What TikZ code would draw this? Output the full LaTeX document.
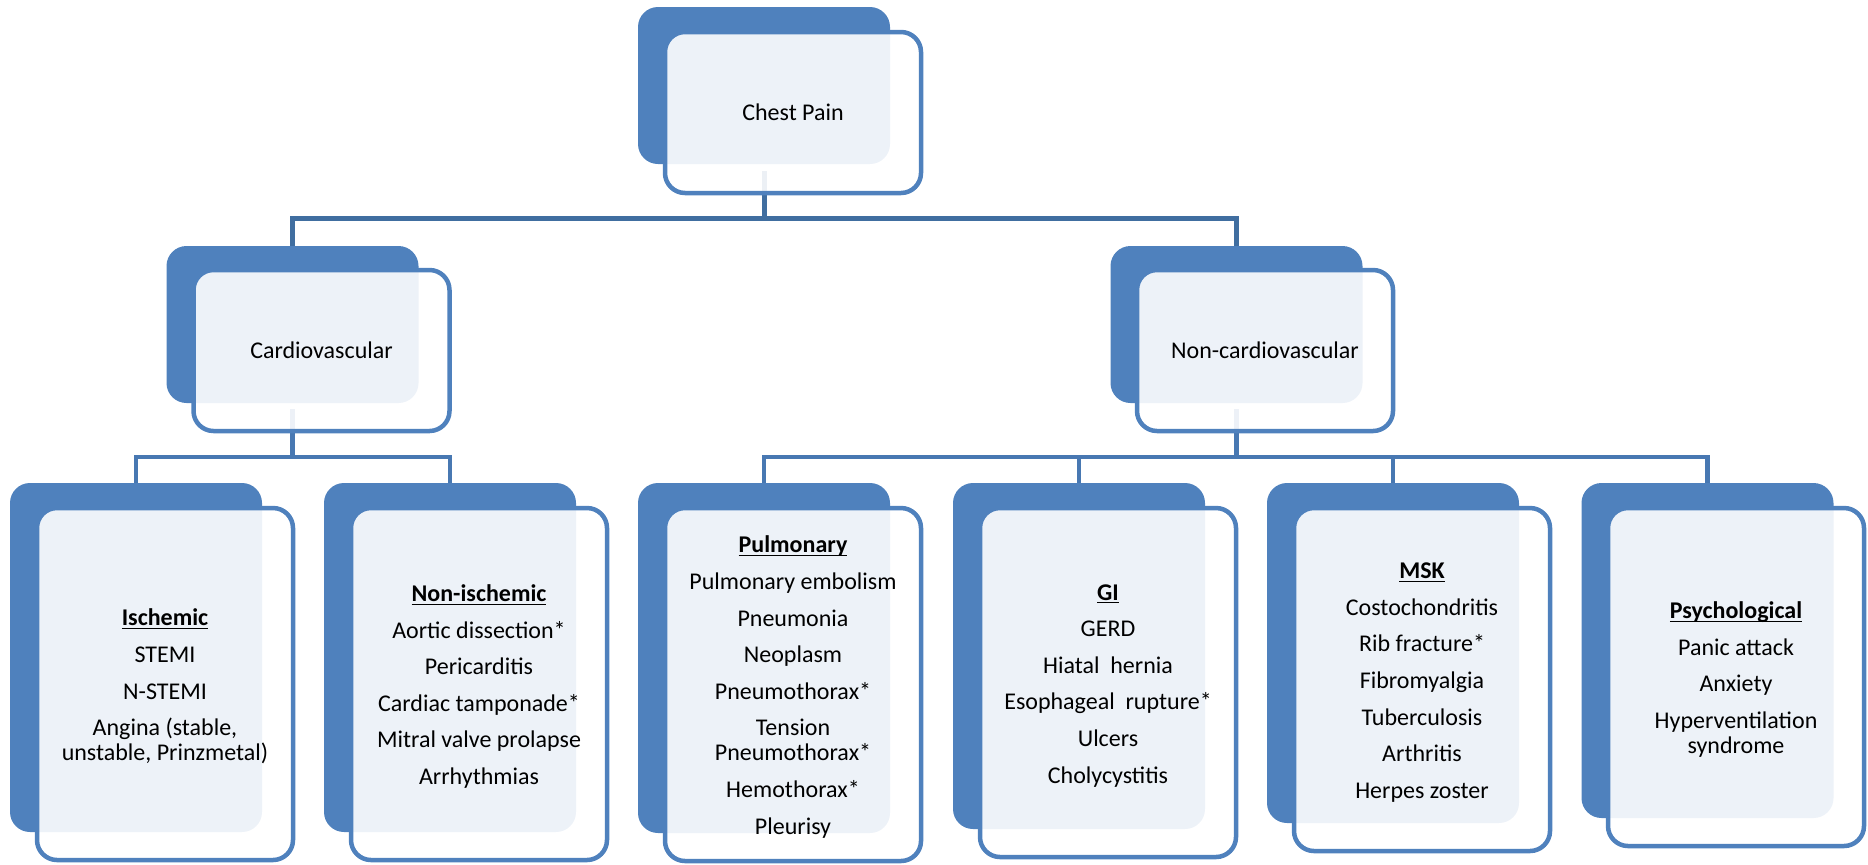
\documentclass[tikz,border=0pt]{standalone}
\usepackage{fontspec}
\setmainfont{Carlito}
\definecolor{boxblue}{RGB}{79,129,189}
\definecolor{busdark}{RGB}{64,110,160}
\definecolor{buslight}{RGB}{72,120,178}
\newcommand{\hdr}[1]{\underline{\smash{\textbf{#1}}}}
\tikzset{
  backbox/.style={fill=boxblue, draw=none, rounded corners=10pt, inner sep=0pt,
    minimum width=126pt},
  frontbox/.style={draw=boxblue, line width=2.25pt, fill=white, fill opacity=0.9,
    text opacity=1, rounded corners=10pt, inner sep=0pt, minimum width=128pt,
    align=center, font=\fontsize{12}{12.5}\selectfont, text=black},
  leaftext/.style={inner sep=0pt, align=center, font=\fontsize{12}{12.5}\selectfont,
    text=black, yshift=-5.5pt},
  topconn/.style={draw=busdark, line width=2.5pt},
  lowconn/.style={draw=buslight, line width=2.25pt}
}
\begin{document}
\begin{tikzpicture}[x=0.5pt,y=-0.5pt]
\useasboundingbox (0,0) rectangle (1868,864);
\coordinate (bus1) at (0,218);
\coordinate (bus2) at (0,457);
% back boxes
\node[backbox, minimum height=78.5pt] (cpB) at (764,85.5) {};
\node[backbox, minimum height=78.5pt] (cvB) at (292.5,324.5) {};
\node[backbox, minimum height=78.5pt] (ncB) at (1236.5,324.5) {};
\node[backbox, minimum height=174.5pt] (isB) at (136,657.5) {};
\node[backbox, minimum height=174.5pt] (niB) at (450,657.5) {};
\node[backbox, minimum height=175pt] (puB) at (764,658) {};
\node[backbox, minimum height=173pt] (giB) at (1079,656) {};
\node[backbox, minimum height=170pt] (msB) at (1393,653) {};
\node[backbox, minimum height=167.5pt] (psB) at (1707.5,650.5) {};
% connectors
\draw[topconn] ([yshift=-3.5pt]cpB.south) -- (cpB.south |- bus1) -| (cvB.north);
\draw[topconn] ([yshift=-3.5pt]cpB.south) -- (cpB.south |- bus1) -| (ncB.north);
\draw[lowconn] ([yshift=-3pt]cvB.south) -- (cvB.south |- bus2) -| (isB.north);
\draw[lowconn] ([yshift=-3pt]cvB.south) -- (cvB.south |- bus2) -| (niB.north);
\draw[lowconn] ([yshift=-3pt]ncB.south) -- (ncB.south |- bus2) -| (puB.north);
\draw[lowconn] ([yshift=-3pt]ncB.south) -- (ncB.south |- bus2) -| (giB.north);
\draw[lowconn] ([yshift=-3pt]ncB.south) -- (ncB.south |- bus2) -| (msB.north);
\draw[lowconn] ([yshift=-3pt]ncB.south) -- (ncB.south |- bus2) -| (psB.north);
% front boxes
\node[frontbox, minimum height=80.5pt] (cpF) at (793,112.5) {Chest Pain};
\node[frontbox, minimum height=80.5pt] (cvF) at (321.5,350.5) {Cardiovascular};
\node[frontbox, minimum height=80.5pt] (ncF) at (1265,350.5) {Non-cardiovascular};
\node[frontbox, minimum height=176pt] (isF) at (165,684) {};
\node[frontbox, minimum height=176pt] (niF) at (479,684) {};
\node[frontbox, minimum height=176.5pt] (puF) at (793,684.5) {};
\node[frontbox, minimum height=174.5pt] (giF) at (1108,682.5) {};
\node[frontbox, minimum height=171.5pt] (msF) at (1422,679.5) {};
\node[frontbox, minimum height=169pt] (psF) at (1736,677) {};
% leaf texts
\node[leaftext] (isT) at (isF.center) {\hdr{Ischemic}\\[5.8pt]
  STEMI\\[5.8pt] N-STEMI\\[5.8pt] Angina (stable,\\ unstable, Prinzmetal)};
\node[leaftext] (niT) at (niF.center) {\hdr{Non-ischemic}\\[5.8pt]
  Aortic dissection*\\[5.8pt] Pericarditis\\[5.8pt] Cardiac tamponade*\\[5.8pt]
  Mitral valve prolapse\\[5.8pt] Arrhythmias};
\node[leaftext] (puT) at (puF.center) {\hdr{Pulmonary}\\[5.8pt]
  Pulmonary embolism\\[5.8pt] Pneumonia\\[5.8pt] Neoplasm\\[5.8pt] Pneumothorax*\\[5.8pt]
  Tension\\ Pneumothorax*\\[5.8pt] Hemothorax*\\[5.8pt] Pleurisy};
\node[leaftext] (giT) at (giF.center) {\hdr{GI}\\[5.8pt]
  GERD\\[5.8pt] Hiatal\ \ hernia\\[5.8pt] Esophageal\ \ rupture*\\[5.8pt] Ulcers\\[5.8pt]
  Cholycystitis};
\node[leaftext] (msT) at (msF.center) {\hdr{MSK}\\[5.8pt]
  Costochondritis\\[5.8pt] Rib fracture*\\[5.8pt] Fibromyalgia\\[5.8pt] Tuberculosis\\[5.8pt]
  Arthritis\\[5.8pt] Herpes zoster};
\node[leaftext] (psT) at (psF.center) {\hdr{Psychological}\\[5.8pt]
  Panic attack\\[5.8pt] Anxiety\\[5.8pt] Hyperventilation\\ syndrome};
\end{tikzpicture}
\end{document}
